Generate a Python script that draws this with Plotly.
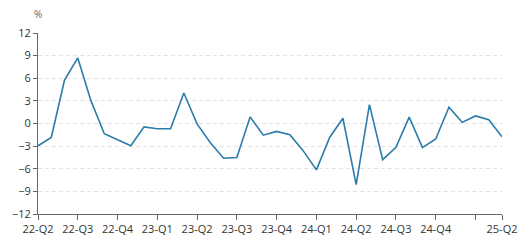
import plotly.graph_objects as go

values = [-2.95, -1.85, 5.75, 8.7, 3.0, -1.35, -2.15, -2.95, -0.45, -0.7, -0.7, 4.05,
          -0.05, -2.55, -4.6, -4.5, 0.85, -1.55, -1.05, -1.5, -3.6, -6.15, -1.85, 0.7,
          -8.1, 2.5, -4.8, -3.15, 0.85, -3.2, -2.05, 2.15, 0.15, 1.0, 0.5, -1.75]
tick_pos = [0, 3, 6, 9, 12, 15, 18, 21, 24, 27, 30, 33, 35]
tick_labels = ["22-Q2", "22-Q3", "22-Q4", "23-Q1", "23-Q2", "23-Q3", "23-Q4",
               "24-Q1", "24-Q2", "24-Q3", "24-Q4", "", "25-Q2"]
y_ticks = [-12, -9, -6, -3, 0, 3, 6, 9, 12]

x = list(range(len(values)))

fig = go.Figure()
fig.add_trace(go.Scatter(x=x, y=values, mode="lines",
                         line=dict(color="#2b7bab", width=1.6),
                         hoverinfo="skip", showlegend=False))

fig.update_layout(
    width=529, height=248,
    margin=dict(l=31, r=18, t=33, b=27),
    paper_bgcolor="white", plot_bgcolor="white",
    font=dict(family="Open Sans", size=11, color="#333"),
    xaxis=dict(range=[0, 35], tickmode="array", tickvals=tick_pos, ticktext=tick_labels,
               showgrid=False, zeroline=False, showline=True, linecolor="#666", linewidth=1,
               ticks="outside", ticklen=5, tickcolor="#666", tickfont=dict(size=11, color="#333")),
    yaxis=dict(range=[-12, 12], tickmode="array", tickvals=y_ticks,
               showgrid=True, gridcolor="#e3e3e3", griddash="4px,3px", gridwidth=1,
               zeroline=False, showline=True, linecolor="#666", linewidth=1,
               ticks="outside", ticklen=4, tickcolor="#666", tickfont=dict(size=11, color="#333")),
    annotations=[dict(text="%", xref="paper", yref="paper", x=0, y=1, xanchor="center",
                      yanchor="bottom", yshift=10, showarrow=False,
                      font=dict(size=10, color="#666"))],
)

fig.write_html("out.html")
